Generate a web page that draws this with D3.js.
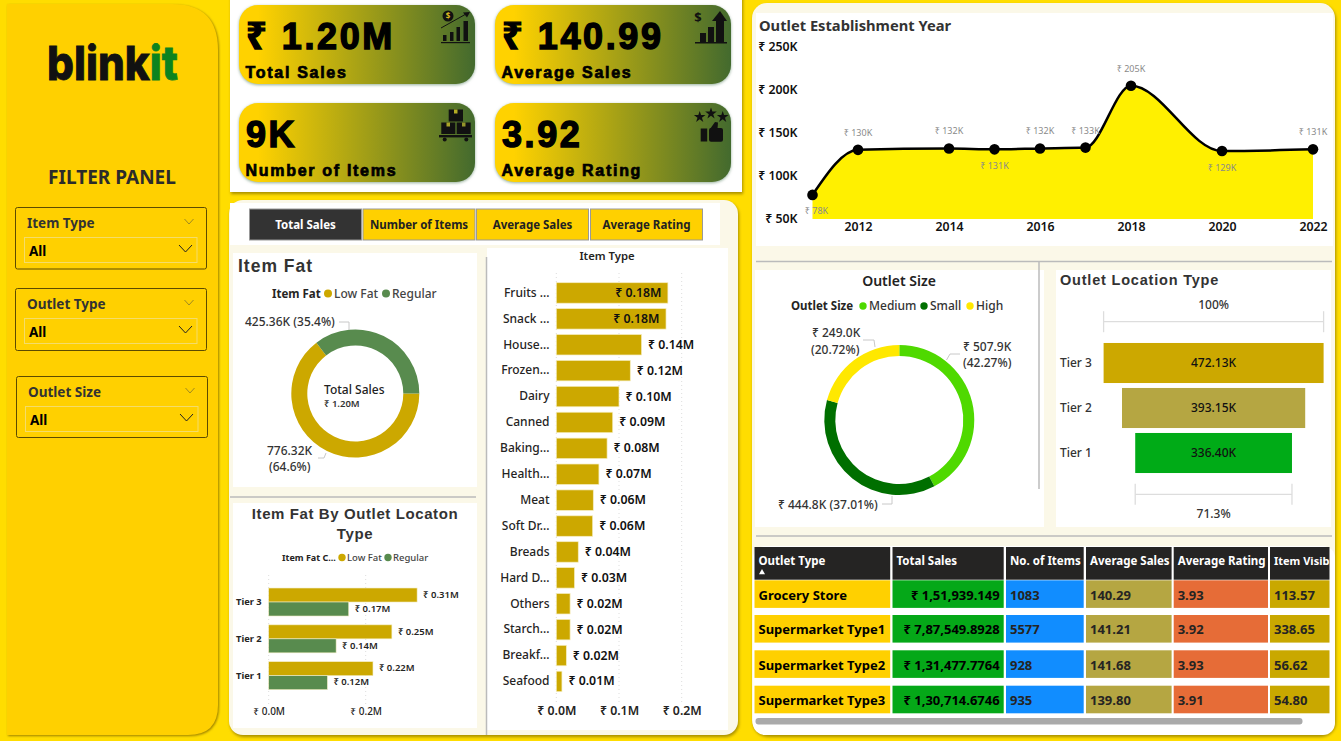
<!DOCTYPE html>
<html>
<head>
<meta charset="utf-8">
<script src="https://cdn.jsdelivr.net/npm/d3@7"></script>
<style>
  html, body { margin: 0; padding: 0; background: #FFDD00; overflow: hidden; }
  text { font-family: "Noto Sans", "Open Sans", sans-serif; fill: #252423; }
  .heavy { font-family: "Liberation Sans", "Noto Sans", sans-serif; font-weight: 700; fill: #000; stroke: #000; }
  .wide { font-family: "Liberation Sans", "Noto Sans", sans-serif; font-weight: 700; fill: #333; }
</style>
</head>
<body>
<svg id="chart" width="1341" height="741"></svg>
<script>
// Colours used again and again
const gold = "#CCA800", fatGreen = "#588B4E", cream = "#FBF8E8", panelYellow = "#FFD000";

// KPI cards
const kpiValues = ["₹ 1.20M", "₹ 140.99", "9K", "3.92"];
const kpiLabels = ["Total Sales", "Average Sales", "Number of Items", "Average Rating"];
const tabLabels = ["Total Sales", "Number of Items", "Average Sales", "Average Rating"];
const slicerLabels = ["Item Type", "Outlet Type", "Outlet Size"];

// Item Fat donut
const fatKeys = ["Low Fat", "Regular"];
const fatSales = [776.32, 425.36];

// Item Fat by outlet location (in millions)
const tiers = ["Tier 3", "Tier 2", "Tier 1"];
const tierLowFat = [0.306, 0.254, 0.215];
const tierRegular = [0.165, 0.139, 0.121];
const tierLowLabels = ["₹ 0.31M", "₹ 0.25M", "₹ 0.22M"];
const tierRegLabels = ["₹ 0.17M", "₹ 0.14M", "₹ 0.12M"];

// Item type bars (in millions)
const itemTypes = ["Fruits ...", "Snack ...", "House...", "Frozen...", "Dairy", "Canned", "Baking...", "Health...",
  "Meat", "Soft Dr...", "Breads", "Hard D...", "Others", "Starch...", "Breakf...", "Seafood"];
const itemSales = [0.178, 0.175, 0.136, 0.118, 0.1, 0.09, 0.081, 0.068, 0.059, 0.058, 0.035, 0.029, 0.022, 0.022, 0.016, 0.009];
const itemLabels = ["₹ 0.18M", "₹ 0.18M", "₹ 0.14M", "₹ 0.12M", "₹ 0.10M", "₹ 0.09M", "₹ 0.08M", "₹ 0.07M",
  "₹ 0.06M", "₹ 0.06M", "₹ 0.04M", "₹ 0.03M", "₹ 0.02M", "₹ 0.02M", "₹ 0.02M", "₹ 0.01M"];

// Outlet establishment year (in thousands)
const years = [2011, 2012, 2014, 2015, 2016, 2017, 2018, 2020, 2022];
const yearSales = [78, 130.4, 132, 131, 132, 133, 205, 129, 131];
const yearLabelBelow = [true, false, false, true, false, false, false, true, false];
const yearTicks = [2012, 2014, 2016, 2018, 2020, 2022];
const salesTicks = [50, 100, 150, 200, 250];

// Outlet size donut
const sizeKeys = ["Medium", "Small", "High"];
const sizeSales = [507.9, 444.8, 249.0];
const sizeColors = ["#4FD900", "#006F00", "#FFE800"];

// Funnel
const funnelTiers = ["Tier 3", "Tier 2", "Tier 1"];
const funnelValues = [472.13, 393.15, 336.40];
const funnelLabels = ["472.13K", "393.15K", "336.40K"];
const funnelColors = [gold, "#B5A642", "#00AB17"];

// Table
const tableHeaders = ["Outlet Type", "Total Sales", "No. of Items", "Average Sales", "Average Rating", "Item Visib"];
const outletTypes = ["Grocery Store", "Supermarket Type1", "Supermarket Type2", "Supermarket Type3"];
const outletSales = ["₹ 1,51,939.149", "₹ 7,87,549.8928", "₹ 1,31,477.7764", "₹ 1,30,714.6746"];
const outletItems = ["1083", "5577", "928", "935"];
const outletAvgSales = ["140.29", "141.21", "141.68", "139.80"];
const outletRating = ["3.93", "3.92", "3.93", "3.91"];
const outletVisibility = ["113.57", "338.65", "56.62", "54.80"];

const svg = d3.select("#chart");
const defs = svg.append("defs");

// Small helper so the text calls don't take six lines each
// (noto sits a bit low compared to the original font, hence the -0.8)
function label(parent, x, y, str, size, opts) {
  opts = opts || {};
  const central = !opts.baseline;
  const t = parent.append("text")
    .attr("x", x).attr("y", central ? y - 0.8 : y)
    .attr("font-size", size)
    .attr("font-weight", opts.weight || 500)
    .attr("text-anchor", opts.anchor || "start")
    .attr("dominant-baseline", opts.baseline || "central")
    .text(str);
  if (opts.fill) t.style("fill", opts.fill);
  if (opts.cls) t.attr("class", opts.cls);
  if (opts.spacing) t.attr("letter-spacing", opts.spacing);
  if (opts.stroke) t.attr("stroke-width", opts.stroke);
  return t;
}

function leader(points) {
  svg.append("path")
    .attr("d", d3.line()(points))
    .attr("fill", "none").attr("stroke", "#c8c8c8").attr("stroke-width", 1);
}

function panel(x, y, w, h, r, fill, shadow) {
  const p = svg.append("rect").attr("x", x).attr("y", y).attr("width", w).attr("height", h)
    .attr("rx", r).attr("fill", fill);
  if (shadow) p.style("filter", "drop-shadow(1px 2px 1.5px rgba(120,100,0,0.65))");
  return p;
}

function chevron(x, y, w, h, color, sw) {
  svg.append("path")
    .attr("d", d3.line()([[x - w, y - h], [x, y + h], [x + w, y - h]]))
    .attr("fill", "none").attr("stroke", color).attr("stroke-width", sw);
}

// ---- Left filter panel ----
svg.append("path")
  .attr("d", "M7,4 H172 Q218,4 218,50 V705 Q218,735 188,735 H7 Z")
  .attr("fill", panelYellow)
  .style("filter", "drop-shadow(1.5px 1px 1px rgba(130,105,0,0.8))");

// Logo is one text with two coloured runs
const logo = svg.append("text").attr("x", 47).attr("y", 80)
  .attr("font-size", 47).attr("font-weight", 800)
  .attr("textLength", 131).attr("lengthAdjust", "spacingAndGlyphs")
  .attr("stroke-width", 0.8).style("font-family", "Inter");
logo.append("tspan").text("blink").style("fill", "#111").attr("stroke", "#111");
logo.append("tspan").text("it").style("fill", "#0C831F").attr("stroke", "#0C831F");

label(svg, 112, 177.5, "FILTER PANEL", 19, { weight: 700, anchor: "middle", fill: "#2b2b2b" });

const slicerX = [15.5, 15.5, 16.5];
const slicerY = [207.5, 288.5, 376.5];
const slicerH = [61.5, 62, 61];
slicerLabels.forEach(function(name, i) {
  const x = slicerX[i], y = slicerY[i];
  svg.append("rect").attr("x", x).attr("y", y).attr("width", 191).attr("height", slicerH[i]).attr("rx", 2)
    .attr("fill", "none").attr("stroke", "#5c4b00").attr("stroke-width", 1);
  label(svg, x + 11.5, y + 16, name, 13.5, { weight: 700, fill: "#333" });
  chevron(x + 173.5, y + 14, 4.5, 2.5, "#a08a20", 1);
  svg.append("rect").attr("x", x + 9).attr("y", y + 30).attr("width", 172.5).attr("height", 25)
    .attr("fill", "none").attr("stroke", "#F4DC6A").attr("stroke-width", 1);
  label(svg, x + 13.5, y + 44, "All", 13.5, { weight: 700, fill: "#000" });
  chevron(x + 170, y + 41, 6.5, 3.5, "#222", 1);
});

// ---- KPI cards ----
panel(230, -5, 512, 197, 0, "#fff", true);
const grad = defs.append("linearGradient").attr("id", "kpiGrad");
grad.append("stop").attr("offset", "8%").attr("stop-color", "#FFD200");
grad.append("stop").attr("offset", "100%").attr("stop-color", "#436A2E");

const cardX = [239, 495, 239, 495];
const cardY = [5, 5, 103, 103];
kpiValues.forEach(function(v, i) {
  svg.append("rect").attr("x", cardX[i]).attr("y", cardY[i]).attr("width", 236).attr("height", 79).attr("rx", 19)
    .attr("fill", "url(#kpiGrad)")
    .style("filter", "drop-shadow(0.5px 1.5px 1.5px rgba(60,110,70,0.55))");
  label(svg, cardX[i] + 7, cardY[i] + 44, v, 36, { cls: "heavy", baseline: "auto", spacing: 2.6, stroke: 1.4 });
  label(svg, cardX[i] + 6.5, cardY[i] + 73, kpiLabels[i], 16, { cls: "heavy", baseline: "auto", spacing: 1.7, stroke: 0.7 });
});

// KPI icons, just plain shapes
const ink = "#111";
const icon = svg.append("g").attr("fill", ink);
function box(x, y, w, h, fill) {
  return icon.append("rect").attr("x", x).attr("y", y).attr("width", w).attr("height", h).attr("fill", fill || ink);
}
function poly(pts) { return icon.append("path").attr("d", d3.line()(pts) + "Z"); }

// sales icon
icon.append("circle").attr("cx", 448).attr("cy", 16).attr("r", 5.5);
label(icon, 448, 16.5, "$", 8, { anchor: "middle", weight: 700, fill: "#D8B820" });
icon.append("path").attr("d", d3.line()([[441, 28], [466, 14]])).attr("fill", "none").attr("stroke", ink).attr("stroke-width", 1);
poly([[470, 12], [463, 12.5], [467, 17.5]]);
box(443, 35, 3.5, 6); box(450, 32, 3.5, 9); box(456.5, 27, 3.5, 14); box(463.5, 21, 4.5, 20); box(441, 42, 29, 1.2);
// average sales icon
label(icon, 698, 18, "$", 13, { anchor: "middle", weight: 700, fill: ink });
box(700, 33, 6, 9); box(708, 27, 6, 15); box(716, 21, 8, 21); box(695, 42, 32, 1.5);
poly([[720, 11], [712, 21], [727, 21]]);
// items icon
box(448.7, 109.5, 14.3, 12); box(441.3, 122.5, 14, 11.5); box(456.7, 122.5, 14, 11.5);
box(454, 109.5, 3.5, 4, "#B4AC24"); box(446.5, 122.5, 3.5, 4, "#A9A328"); box(462, 122.5, 3.5, 4, "#94952A");
box(439, 135, 33, 2.4);
icon.append("circle").attr("cx", 444.7).attr("cy", 139.5).attr("r", 2);
icon.append("circle").attr("cx", 466.3).attr("cy", 139.5).attr("r", 2);
// rating icon
[[699.7, 117], [711, 113.5], [722.7, 117]].forEach(function(p) {
  icon.append("path").attr("d", d3.symbol(d3.symbolStar, 42)()).attr("transform", "translate(" + p + ")");
});
box(700.7, 128.5, 6.5, 13);
icon.append("rect").attr("x", 709).attr("y", 128).attr("width", 14).attr("height", 13.7).attr("rx", 2);
poly([[710, 129], [715, 122], [718, 122.5], [717.5, 129]]);

// ---- Middle panel ----
panel(229, 200, 509, 535, 14, cream, true);
panel(230, 203, 490, 42, 0, "#fff");
panel(233, 253, 244, 234, 0, "#fff");
panel(233, 503, 244, 225, 0, "#fff");
panel(487, 248, 241, 482, 0, "#fff");
svg.append("line").attr("x1", 230).attr("x2", 476).attr("y1", 497).attr("y2", 497).attr("stroke", "#bbb").attr("stroke-width", 1.5);
svg.append("line").attr("x1", 486.5).attr("x2", 486.5).attr("y1", 257).attr("y2", 735).attr("stroke", "#bbb").attr("stroke-width", 1.5);

// Tabs
const tabX = [249.5, 363, 476.5, 590.5];
tabLabels.forEach(function(t, i) {
  svg.append("rect").attr("x", tabX[i]).attr("y", 209).attr("width", 112).attr("height", 31)
    .attr("fill", i === 0 ? "#333" : panelYellow).attr("stroke", "#999").attr("stroke-width", 1);
  label(svg, tabX[i] + 56, 225.5, t, 11.5, { weight: 700, anchor: "middle", fill: i === 0 ? "#fff" : "#222" });
});

// ---- Item Fat donut ----
label(svg, 238, 267, "Item Fat", 17.5, { cls: "wide", spacing: 1 });
label(svg, 272, 294.5, "Item Fat", 11.5, { weight: 700 });
const fatColor = d3.scaleOrdinal().domain(fatKeys).range([gold, fatGreen]);
const fatDotX = [328, 386];
fatKeys.forEach(function(k, i) {
  svg.append("circle").attr("cx", fatDotX[i]).attr("cy", 293.5).attr("r", 4).attr("fill", fatColor(k));
  label(svg, fatDotX[i] + 6, 294.5, k, 12, { fill: "#444" });
});

const fatPie = d3.pie().sort(null).startAngle(Math.PI / 2).endAngle(Math.PI * 2.5);
const fatArc = d3.arc().innerRadius(48).outerRadius(64);
svg.append("g").attr("transform", "translate(355.3,393.5)")
  .selectAll("path").data(fatPie(fatSales)).join("path")
  .attr("d", fatArc)
  .attr("fill", (d, i) => fatColor(fatKeys[i]));

label(svg, 324, 390, "Total Sales", 12, { fill: "#222" });
label(svg, 324, 404.5, "₹ 1.20M", 9.5, { weight: 600, fill: "#333" });
label(svg, 245, 322.5, "425.36K (35.4%)", 12, { fill: "#333" });
leader([[339, 322], [349, 322], [349, 330]]);
label(svg, 267, 451, "776.32K", 12, { fill: "#333" });
label(svg, 269, 467.5, "(64.6%)", 12, { fill: "#333" });
leader([[318, 458], [324, 458], [326, 453]]);

// ---- Item Fat by outlet location ----
label(svg, 355, 514, "Item Fat By Outlet Locaton", 15, { cls: "wide", anchor: "middle", spacing: 0.6 });
label(svg, 355, 534, "Type", 15, { cls: "wide", anchor: "middle", spacing: 0.6 });
label(svg, 282, 558, "Item Fat C...", 9, { weight: 700 });
const tierDotX = [342, 388];
fatKeys.forEach(function(k, i) {
  svg.append("circle").attr("cx", tierDotX[i]).attr("cy", 557.5).attr("r", 3.7).attr("fill", fatColor(k));
  label(svg, tierDotX[i] + 5, 558, k, 9.5, { fill: "#444" });
});

const tierX = d3.scaleLinear().domain([0, 0.2]).range([268.7, 365.7]);
const tierY = d3.scaleBand().domain(tiers).range([583.6, 694.1]).paddingInner(0.24).paddingOuter(0.12);
const tierSub = d3.scaleBand().domain(fatKeys).range([0, tierY.bandwidth()]);

svg.append("g").selectAll("line").data([0, 0.2]).join("line")
  .attr("x1", d => tierX(d)).attr("x2", d => tierX(d))
  .attr("y1", 575).attr("y2", 706)
  .attr("stroke", "#ddd").attr("stroke-dasharray", "1,3");

const tierData = tiers.flatMap((t, i) => [
  { tier: t, key: "Low Fat", value: tierLowFat[i], text: tierLowLabels[i] },
  { tier: t, key: "Regular", value: tierRegular[i], text: tierRegLabels[i] }
]);
const tierBars = svg.append("g").selectAll("g").data(tierData).join("g")
  .attr("transform", d => "translate(0," + (tierY(d.tier) + tierSub(d.key)) + ")");
tierBars.append("rect")
  .attr("x", tierX(0))
  .attr("width", d => tierX(d.value) - tierX(0))
  .attr("height", tierSub.bandwidth())
  .attr("fill", d => fatColor(d.key))
  .attr("stroke", "#F3EDC4").attr("stroke-width", 0.6);
tierBars.append("text")
  .attr("x", d => tierX(d.value) + 6)
  .attr("y", tierSub.bandwidth() / 2 - 0.8)
  .attr("dominant-baseline", "central")
  .attr("font-size", 9.5).attr("font-weight", 600)
  .text(d => d.text);

const tierAxisY = d3.axisLeft(tierY).tickSize(0).tickPadding(7);
svg.append("g").attr("transform", "translate(268.7,0)").call(tierAxisY)
  .call(g => g.select(".domain").remove())
  .selectAll("text").attr("font-size", 9.3).attr("font-weight", 700).attr("font-family", null);

const tierAxisX = d3.axisBottom(tierX).tickValues([0, 0.2]).tickSize(0).tickPadding(0)
  .tickFormat(d => "₹ " + d3.format(".1f")(d) + "M");
svg.append("g").attr("transform", "translate(0,707.5)").call(tierAxisX)
  .call(g => g.select(".domain").remove())
  .selectAll("text").attr("font-size", 10).attr("font-weight", 500).attr("font-family", null);

// ---- Item type bars ----
label(svg, 607, 256.5, "Item Type", 11.3, { weight: 600, anchor: "middle" });
const itemX = d3.scaleLinear().domain([0, 0.2]).range([556.3, 681.7]);
const itemY = d3.scaleBand().domain(itemTypes).range([280, 694.4]).paddingInner(0.21).paddingOuter(0.105);

svg.append("g").selectAll("line").data([0, 0.1, 0.2]).join("line")
  .attr("x1", d => itemX(d)).attr("x2", d => itemX(d))
  .attr("y1", 273).attr("y2", 703)
  .attr("stroke", "#ddd").attr("stroke-dasharray", "1,3");

const itemRows = svg.append("g").selectAll("g").data(itemTypes).join("g")
  .attr("transform", d => "translate(0," + itemY(d) + ")");
itemRows.append("rect")
  .attr("x", itemX(0))
  .attr("width", (d, i) => itemX(itemSales[i]) - itemX(0))
  .attr("height", itemY.bandwidth())
  .attr("fill", gold)
  .attr("stroke", "#F5EDBE").attr("stroke-width", 0.7);
// Two longest bars keep their label inside, same as power bi does
itemRows.append("text")
  .attr("x", (d, i) => i < 2 ? itemX(itemSales[i]) - 6.5 : itemX(itemSales[i]) + 6.5)
  .attr("text-anchor", (d, i) => i < 2 ? "end" : "start")
  .attr("y", itemY.bandwidth() / 2 - 0.5)
  .attr("dominant-baseline", "central")
  .attr("font-size", 12.3).attr("font-weight", 600).style("fill", "#111")
  .text((d, i) => itemLabels[i]);

svg.append("g").attr("transform", "translate(549.5,0)")
  .call(d3.axisLeft(itemY).tickSize(0).tickPadding(0))
  .call(g => g.select(".domain").remove())
  .selectAll("text").attr("font-size", 12).attr("font-weight", 500).attr("font-family", null);

svg.append("g").attr("transform", "translate(0,706)")
  .call(d3.axisBottom(itemX).tickValues([0, 0.1, 0.2]).tickSize(0).tickPadding(0)
    .tickFormat(d => "₹ " + d3.format(".1f")(d) + "M"))
  .call(g => g.select(".domain").remove())
  .selectAll("text").attr("font-size", 12.3).attr("font-weight", 600).attr("font-family", null);

// ---- Right panel ----
panel(752, 3, 583, 732, 15, cream, true);
panel(756, 13, 577, 233, 0, "#fff");
panel(755, 270, 289, 257, 0, "#fff");
panel(1056, 270, 275, 257, 0, "#fff");
panel(753, 546, 582, 189, 12, "#fff");
svg.append("line").attr("x1", 756).attr("x2", 1332).attr("y1", 261.5).attr("y2", 261.5).attr("stroke", "#bbb").attr("stroke-width", 1.5);
svg.append("line").attr("x1", 756).attr("x2", 1332).attr("y1", 536).attr("y2", 536).attr("stroke", "#bbb").attr("stroke-width", 1.5);
svg.append("line").attr("x1", 1039).attr("x2", 1039).attr("y1", 262).attr("y2", 489).attr("stroke", "#bbb").attr("stroke-width", 1.5);

// ---- Outlet establishment year ----
label(svg, 759, 26, "Outlet Establishment Year", 14.7, { weight: 700, fill: "#333" });
const lineX = d3.scaleLinear().domain([2012, 2022]).range([858, 1313]);
const lineY = d3.scaleLinear().domain([50, 250]).range([219, 47]);
const yearData = years.map((y, i) => ({ year: y, sales: yearSales[i], below: yearLabelBelow[i] }));

svg.append("path").datum(yearData)
  .attr("d", d3.area().curve(d3.curveMonotoneX).x(d => lineX(d.year)).y0(lineY(50)).y1(d => lineY(d.sales)))
  .attr("fill", "#FFF000");
svg.append("path").datum(yearData)
  .attr("d", d3.line().curve(d3.curveMonotoneX).x(d => lineX(d.year)).y(d => lineY(d.sales)))
  .attr("fill", "none").attr("stroke", "#000").attr("stroke-width", 2.5);
svg.append("g").selectAll("circle").data(yearData).join("circle")
  .attr("cx", d => lineX(d.year)).attr("cy", d => lineY(d.sales)).attr("r", 5.3).attr("fill", "#000");
svg.append("g").selectAll("text").data(yearData).join("text")
  .attr("x", d => lineX(d.year) + (d.year === 2011 ? 4 : 0))
  .attr("y", d => lineY(d.sales) + (d.below ? 16 : -17.5))
  .attr("text-anchor", "middle").attr("dominant-baseline", "central")
  .attr("font-size", 9).style("fill", "#8a8a8a")
  .text(d => "₹ " + Math.round(d.sales) + "K");

svg.append("g").attr("transform", "translate(797.5,0)")
  .call(d3.axisLeft(lineY).tickValues(salesTicks).tickSize(0).tickPadding(0).tickFormat(d => "₹ " + d + "K"))
  .call(g => g.select(".domain").remove())
  .selectAll("text").attr("font-size", 12.3).attr("font-weight", 600).style("fill", "#111").attr("font-family", null);
svg.append("g").attr("transform", "translate(0,222)")
  .call(d3.axisBottom(lineX).tickValues(yearTicks).tickSize(0).tickPadding(0).tickFormat(d3.format("d")))
  .call(g => g.select(".domain").remove())
  .selectAll("text").attr("font-size", 12.3).attr("font-weight", 600).style("fill", "#111").attr("font-family", null);

// ---- Outlet size donut ----
label(svg, 899, 281, "Outlet Size", 14, { weight: 600, anchor: "middle", fill: "#222" });
label(svg, 791, 306.5, "Outlet Size", 11.5, { weight: 700 });
const sizeDotX = [863, 924, 970];
sizeKeys.forEach(function(k, i) {
  svg.append("circle").attr("cx", sizeDotX[i]).attr("cy", 306).attr("r", 3.7).attr("fill", sizeColors[i]);
  label(svg, sizeDotX[i] + 6, 306.5, k, 12, { fill: "#333" });
});
svg.append("g").attr("transform", "translate(899.3,420)")
  .selectAll("path").data(d3.pie().sort(null)(sizeSales)).join("path")
  .attr("d", d3.arc().innerRadius(64).outerRadius(75))
  .attr("fill", (d, i) => sizeColors[i]);
label(svg, 812, 333.5, "₹ 249.0K", 12, { fill: "#333" });
label(svg, 811, 350, "(20.72%)", 12, { fill: "#333" });
leader([[863, 340], [874, 340], [875, 347]]);
label(svg, 963, 347.5, "₹ 507.9K", 12, { fill: "#333" });
label(svg, 963, 363, "(42.27%)", 12, { fill: "#333" });
leader([[946.5, 360], [950, 354], [960, 354]]);
label(svg, 778, 505.5, "₹ 444.8K (37.01%)", 12, { fill: "#333" });
leader([[882, 504], [892, 504], [892, 496]]);

// ---- Funnel ----
label(svg, 1060, 281, "Outlet Location Type", 14.5, { cls: "wide", spacing: 0.8 });
const funnelW = d3.scaleLinear().domain([0, funnelValues[0]]).range([0, 220]);
const funnelCx = 1213.6;
const funnelY = d3.scaleBand().domain(funnelTiers).range([340.5, 475.5]).paddingInner(0.11).paddingOuter(0.055);

const funnelRows = svg.append("g").selectAll("g").data(funnelTiers).join("g")
  .attr("transform", d => "translate(0," + funnelY(d) + ")");
funnelRows.append("rect")
  .attr("x", (d, i) => funnelCx - funnelW(funnelValues[i]) / 2)
  .attr("width", (d, i) => funnelW(funnelValues[i]))
  .attr("height", funnelY.bandwidth())
  .attr("fill", (d, i) => funnelColors[i]);
funnelRows.append("text")
  .attr("x", funnelCx).attr("y", funnelY.bandwidth() / 2)
  .attr("text-anchor", "middle").attr("dominant-baseline", "central")
  .attr("font-size", 12).attr("font-weight", 500).style("fill", "#111")
  .text((d, i) => funnelLabels[i]);
funnelRows.append("text")
  .attr("x", 1060).attr("y", funnelY.bandwidth() / 2 - 0.5)
  .attr("dominant-baseline", "central")
  .attr("font-size", 12).attr("font-weight", 500).style("fill", "#333")
  .text(d => d);

function bracket(width, y, h) {
  const x0 = funnelCx - width / 2, x1 = funnelCx + width / 2;
  const g = svg.append("g").attr("stroke", "#ddd").attr("stroke-width", 1.3);
  g.append("line").attr("x1", x0).attr("x2", x1).attr("y1", y).attr("y2", y);
  g.append("line").attr("x1", x0).attr("x2", x0).attr("y1", y - h).attr("y2", y + h);
  g.append("line").attr("x1", x1).attr("x2", x1).attr("y1", y - h).attr("y2", y + h);
}
bracket(funnelW(funnelValues[0]), 321.7, 10.5);
bracket(funnelW(funnelValues[2]), 494.3, 10.5);
label(svg, funnelCx, 305, "100%", 12, { anchor: "middle", fill: "#333" });
label(svg, funnelCx, 514, "71.3%", 12, { anchor: "middle", fill: "#333" });

// ---- Table ----
const tableCols = [outletTypes, outletSales, outletItems, outletAvgSales, outletRating, outletVisibility];
const colX = [754.5, 892.5, 1006, 1086, 1173.7, 1270];
const colW = [135.7, 111.2, 77.7, 85.6, 94.3, 59.5];
const colFill = [panelYellow, "#05A818", "#118DFF", "#B5A642", "#E66C37", "#C9A800"];
const rowY = d3.scaleOrdinal().domain(outletTypes).range([580.3, 615, 650.3, 685.7]);
const rowH = 27.6;

const table = svg.append("g");

tableHeaders.forEach(function(h, c) {
  table.append("rect").attr("x", colX[c]).attr("y", 547).attr("width", colW[c]).attr("height", 32.7).attr("fill", "#252423");
  label(table, colX[c] + 4, 561, h, c === 5 ? 11 : 11.5, { weight: 700, fill: "#fff" });
  tableCols[c].forEach(function(v, r) {
    const y = rowY(outletTypes[r]);
    table.append("rect").attr("x", colX[c]).attr("y", y).attr("width", colW[c]).attr("height", rowH).attr("fill", colFill[c]);
    const right = c === 1;
    label(table, right ? colX[c] + colW[c] - 4 : colX[c] + 4, y + rowH / 2 + 1.2, v, 13, {
      weight: 700,
      anchor: right ? "end" : "start",
      fill: c < 2 ? "#000" : "#252423"
    });
  });
});
// sort arrow in the first header
svg.append("path").attr("d", d3.symbol(d3.symbolTriangle, 16)()).attr("transform", "translate(762,572.5)").attr("fill", "#fff");
// scroll bar
panel(755.5, 718, 547, 6.5, 3, "#aaa");
</script>
</body>
</html>
